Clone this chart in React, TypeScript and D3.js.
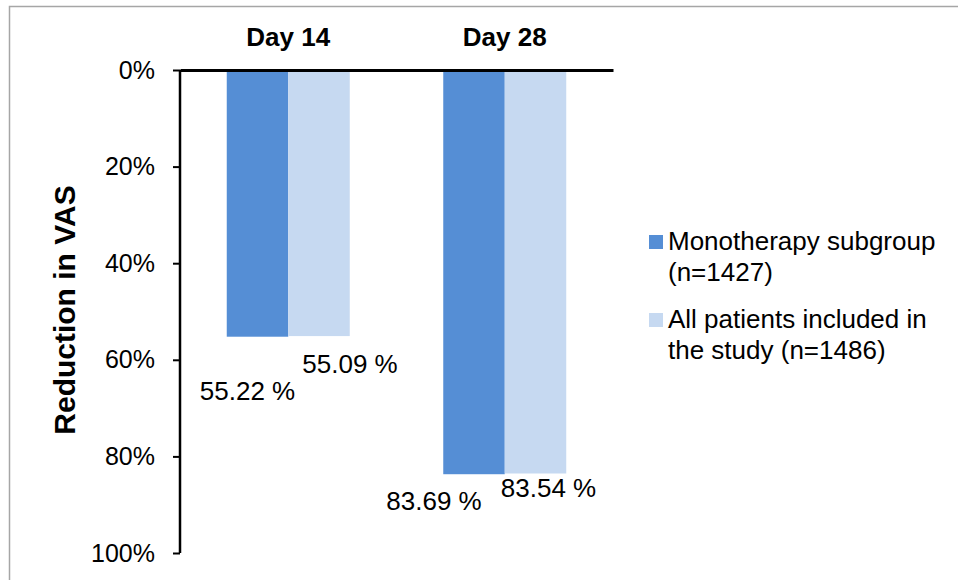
import React, { useEffect, useRef } from "react";
import * as d3 from "d3";

// data
const categories = ["Day 14", "Day 28"];
const seriesNames = [
  ["Monotherapy subgroup", "(n=1427)"],
  ["All patients included in", "the study (n=1486)"],
];
const monotherapy = [55.22, 83.69];
const allPatients = [55.09, 83.54];
const yTicks = [0, 20, 40, 60, 80, 100];
const colors = ["#558ED5", "#C6D9F1"];

// hand-placed label nudges (Excel had them dragged around)
const labelNudge = [
  [[-10, 63], [31, 37]],
  [[-40, 36], [13, 24]],
];

var margin = { top: 70, left: 180 },
  plotW = 433,
  plotH = 483;

function App() {
  const ref = useRef<SVGSVGElement>(null);

  useEffect(() => {
    const svg = d3.select(ref.current);
    svg.selectAll("*").remove();
    const font = "Liberation Sans, Arial, sans-serif";

    // outer frame
    svg.append("rect")
      .attr("x", 9.5).attr("y", 6.5)
      .attr("width", 1000).attr("height", 600)
      .attr("fill", "white")
      .attr("stroke", "#a6a6a6")
      .attr("stroke-width", 1.5);

    const g = svg.append("g")
      .attr("transform", `translate(${margin.left},${margin.top})`);

    const x = d3.scaleBand().domain(categories).range([0, plotW]).paddingInner(0).paddingOuter(0);
    const inner = d3.scaleBand().domain(["0", "1"]).range([0, 123])
    const y = d3.scaleLinear().domain([0, 100]).range([0, plotH]);

    const series = [monotherapy, allPatients];

    // bars
    series.forEach((vals, si) => {
      g.selectAll(".bar" + si)
        .data(vals)
        .enter()
        .append("rect")
        .attr("x", (d, i) => x(categories[i])! + (x.bandwidth() - 123) / 2 + inner(String(si))!)
        .attr("y", 0)
        .attr("width", inner.bandwidth())
        .attr("height", (d) => y(d))
        .attr("fill", colors[si]);
    });

    // value labels
    series.forEach((vals, si) => {
      g.selectAll(".lab" + si)
        .data(vals)
        .enter()
        .append("text")
        .attr("x", (d, i) => x(categories[i])! + (x.bandwidth() - 123) / 2 + inner(String(si))! + inner.bandwidth() / 2 + labelNudge[i][si][0])
        .attr("y", (d, i) => y(d) + labelNudge[i][si][1])
        .attr("text-anchor", "middle")
        .style("font-family", font)
        .style("font-size", "26px")
        .attr("fill", "#000")
        .text((d) => d.toFixed(2) + " %");
    });

    // y axis
    const yAxis = g.append("g")
      .call(d3.axisLeft(y).tickValues(yTicks).tickSize(7).tickFormat((d) => d + "%"));
    yAxis.select(".domain").attr("stroke", "#000").attr("stroke-width", 2.5)
      .attr("d", `M0,0V${plotH}`);
    yAxis.selectAll(".tick line").attr("stroke", "#000").attr("stroke-width", 2);
    yAxis.selectAll(".tick text")
      .attr("x", -25)
      .style("font-family", font)
      .style("font-size", "25px")
      .attr("fill", "#000");

    // top category axis
    const xAxis = g.append("g").call(d3.axisTop(x).tickSize(0).tickPadding(24));
    xAxis.select(".domain").attr("stroke", "#000").attr("stroke-width", 3);
    xAxis.selectAll(".tick text")
      .style("font-family", font)
      .style("font-size", "26px")
      .style("font-weight", "bold")
      .attr("fill", "#000");

    // y title
    svg.append("text")
      .attr("transform", "translate(75,310) rotate(-90)")
      .attr("text-anchor", "middle")
      .style("font-family", font)
      .style("font-size", "30px")
      .style("font-weight", "bold")
      .text("Reduction in VAS");

    // legend
    const legendTop = [235, 313];
    seriesNames.forEach((lines, si) => {
      const lg = svg.append("g").attr("transform", `translate(649,${legendTop[si]})`);
      lg.append("rect").attr("width", 14).attr("height", 14).attr("fill", colors[si]);
      lines.forEach((t, li) => {
        lg.append("text")
          .attr("x", 19)
          .attr("y", 15 + li * 31)
          .style("font-family", font)
          .style("font-size", "26px")
          .attr("fill", "#000")
          .text(t);
      });
    });
  }, []);

  return (
    <svg ref={ref} width={958} height={580}
      style={{ position: "absolute", left: 0, top: 0, background: "white" }} />
  );
}

export default App;
